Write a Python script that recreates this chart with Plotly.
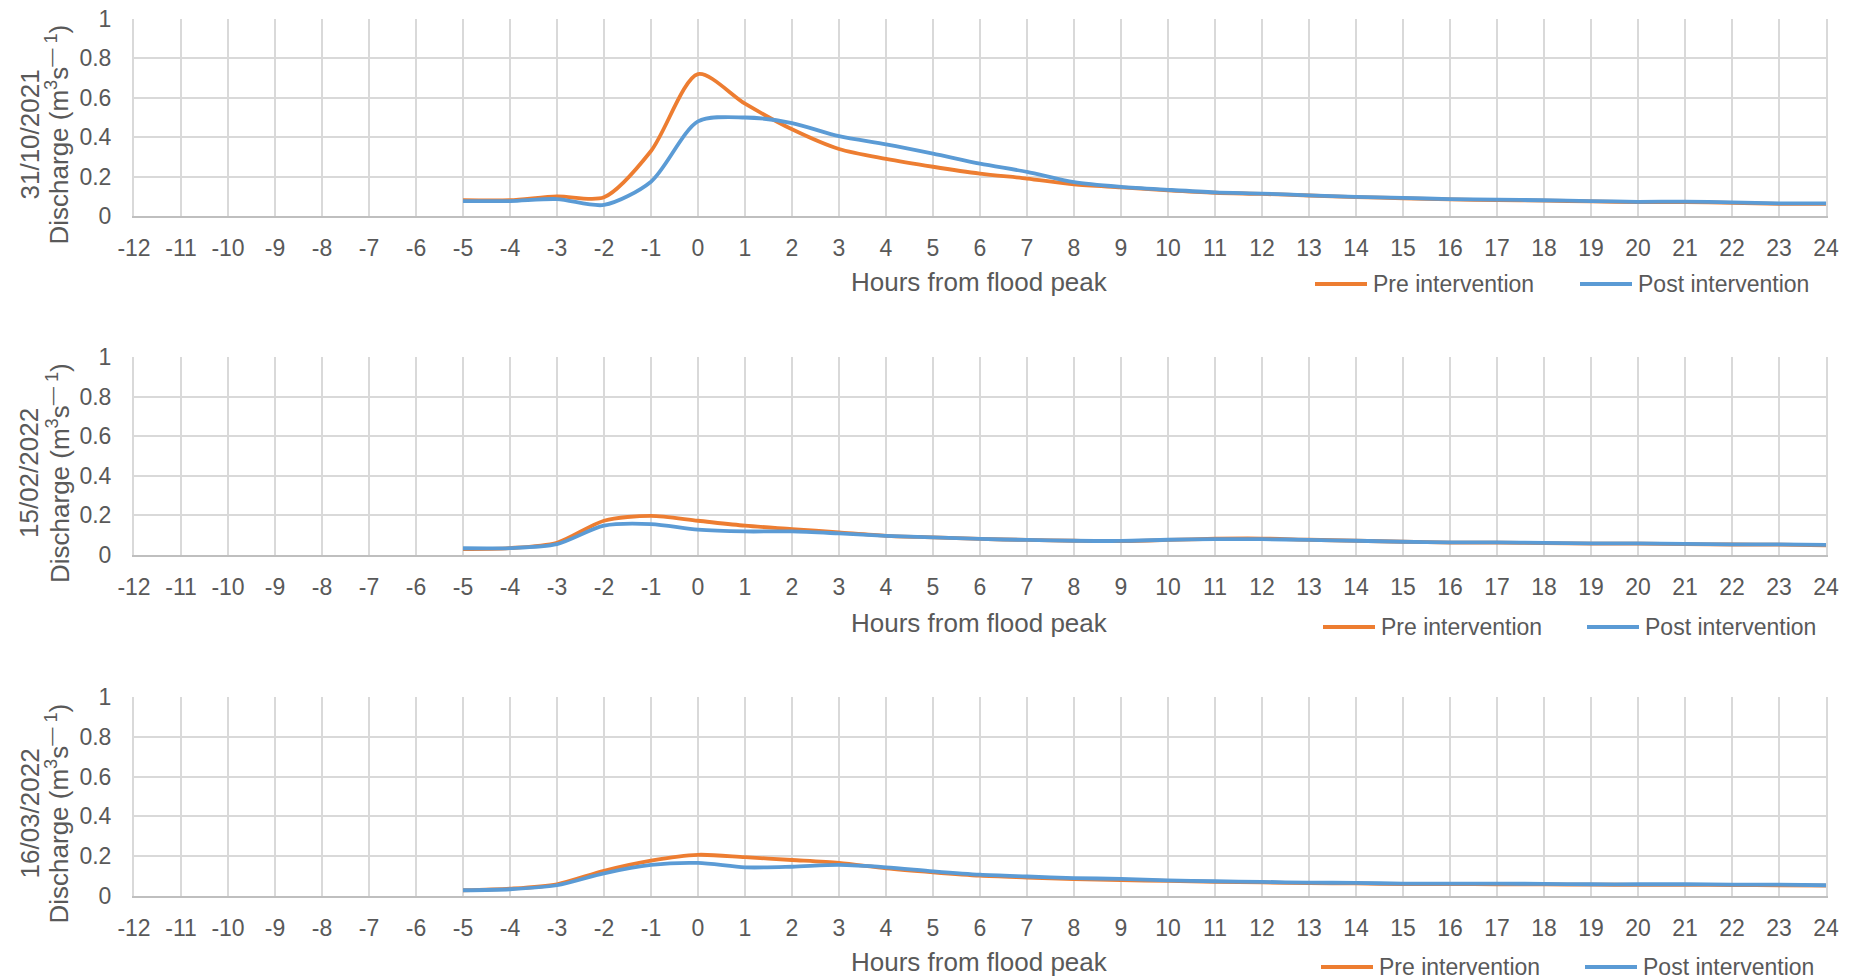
import plotly.graph_objects as go

hours = list(range(-5, 25))
x_ticks = list(range(-12, 25))

pre_2021 = [0.08, 0.08, 0.10, 0.095, 0.33, 0.72, 0.57, 0.44, 0.34, 0.29, 0.25, 0.215, 0.19, 0.16,
            0.145, 0.13, 0.118, 0.112, 0.104, 0.096, 0.09, 0.084, 0.081, 0.078, 0.074, 0.07,
            0.071, 0.067, 0.062, 0.062]
post_2021 = [0.076, 0.076, 0.086, 0.056, 0.174, 0.48, 0.50, 0.472, 0.405, 0.364, 0.317, 0.266,
             0.224, 0.172, 0.148, 0.133, 0.12, 0.114, 0.105, 0.097, 0.092, 0.086, 0.083, 0.08,
             0.076, 0.072, 0.073, 0.069, 0.064, 0.064]

pre_feb22 = [0.03, 0.035, 0.062, 0.173, 0.198, 0.173, 0.148, 0.131, 0.114, 0.097, 0.089, 0.081,
             0.076, 0.072, 0.07, 0.076, 0.082, 0.083, 0.077, 0.072, 0.067, 0.063, 0.062, 0.06,
             0.057, 0.057, 0.055, 0.053, 0.052, 0.049]
post_feb22 = [0.034, 0.035, 0.055, 0.148, 0.156, 0.128, 0.119, 0.119, 0.109, 0.097, 0.089, 0.081,
              0.076, 0.072, 0.071, 0.077, 0.08, 0.08, 0.076, 0.072, 0.067, 0.064, 0.064, 0.061,
              0.059, 0.059, 0.056, 0.054, 0.054, 0.051]

pre_mar22 = [0.029, 0.037, 0.059, 0.127, 0.178, 0.207, 0.195, 0.181, 0.166, 0.139, 0.119, 0.102,
             0.093, 0.085, 0.08, 0.076, 0.071, 0.068, 0.065, 0.063, 0.06, 0.06, 0.059, 0.058,
             0.057, 0.056, 0.056, 0.055, 0.054, 0.052]
post_mar22 = [0.029, 0.034, 0.054, 0.114, 0.156, 0.166, 0.144, 0.147, 0.156, 0.144, 0.124, 0.107,
              0.098, 0.09, 0.086, 0.079, 0.074, 0.071, 0.067, 0.066, 0.062, 0.062, 0.062, 0.061,
              0.059, 0.059, 0.059, 0.057, 0.057, 0.054]

dates = ["31/10/2021", "15/02/2022", "16/03/2022"]
series_names = ["Pre intervention", "Post intervention"]
series = [(pre_2021, post_2021), (pre_feb22, post_feb22), (pre_mar22, post_mar22)]

W, H = 1853, 980
FONT = "Liberation Sans, Arial, sans-serif"
TXT = "#595959"
GRID = "#D9D9D9"
ORANGE = "#ED7D31"
BLUE = "#5B9BD5"
COLORS = [ORANGE, BLUE]

panels = [(19, 216), (357, 555), (697, 896)]
x_left, x_right = 134, 1826
legend_y = [284, 627, 967]
legend_x = [(1315, 1580), (1323, 1587), (1321, 1585)]
title_y = [282, 623, 962]

fig = go.Figure()
layout = dict(
    width=W, height=H, margin=dict(l=0, r=0, t=0, b=0, autoexpand=False),
    paper_bgcolor="white", plot_bgcolor="white",
    font=dict(family=FONT, color=TXT, size=23),
    showlegend=False,
    annotations=[], shapes=[],
)

for i, ((pre, post), date) in enumerate(zip(series, dates)):
    n = "" if i == 0 else str(i + 1)
    top, bot = panels[i]
    for vals, name, col in zip((pre, post), series_names, COLORS):
        fig.add_trace(go.Scatter(x=hours, y=vals, mode="lines", name=name,
                                 line=dict(color=col, width=3.8, shape="spline", smoothing=0.8),
                                 xaxis="x" + n, yaxis="y" + n))
    layout["xaxis" + n] = dict(
        domain=[x_left / W, x_right / W], anchor="y" + n, range=[-12, 24],
        tickmode="array", tickvals=x_ticks, ticktext=[str(t) for t in x_ticks],
        showgrid=True, gridcolor=GRID, gridwidth=2,
        showline=True, linecolor="#BFBFBF", linewidth=2,
        ticks="outside", ticklen=10, tickcolor="rgba(0,0,0,0)",
        tickfont=dict(size=23, color=TXT), zeroline=False, fixedrange=True,
    )
    layout["yaxis" + n] = dict(
        domain=[1 - bot / H, 1 - top / H], anchor="x" + n, range=[0, 1],
        tickmode="array", tickvals=[0, 0.2, 0.4, 0.6, 0.8, 1],
        ticktext=["0", "0.2", "0.4", "0.6", "0.8", "1"],
        showgrid=True, gridcolor=GRID, gridwidth=2,
        showline=True, linecolor=GRID, linewidth=2, mirror=True,
        ticks="outside", ticklen=16, tickcolor="rgba(0,0,0,0)",
        tickfont=dict(size=23, color=TXT), zeroline=False, fixedrange=True,
    )
    # legend: line sample + label, one pair per series
    for (lx, name, col) in zip(legend_x[i], series_names, COLORS):
        ly = 1 - legend_y[i] / H
        layout["shapes"].append(dict(type="line", xref="paper", yref="paper",
                                     x0=lx / W, x1=(lx + 52) / W, y0=ly, y1=ly,
                                     line=dict(color=col, width=3.8)))
        layout["annotations"].append(dict(text=name, x=(lx + 56) / W, y=ly, xref="paper",
                                          yref="paper", showarrow=False, xanchor="left",
                                          yanchor="middle", font=dict(size=23, color=TXT)))
    mid = (top + bot) / 2 + 17
    layout["annotations"] += [
        dict(text=date, x=29 / W, y=1 - mid / H, xref="paper", yref="paper",
             textangle=-90, showarrow=False, font=dict(size=26, color=TXT),
             xanchor="center", yanchor="middle"),
        dict(text="Discharge (m<sup>3</sup>s<sup>\u2014 1</sup>)", x=58 / W, y=1 - mid / H,
             xref="paper", yref="paper", textangle=-90, showarrow=False,
             font=dict(size=26, color=TXT), xanchor="center", yanchor="middle"),
        dict(text="Hours from flood peak", x=(x_left + x_right) / 2 / W, y=1 - title_y[i] / H,
             xref="paper", yref="paper", showarrow=False, font=dict(size=26, color=TXT),
             xanchor="center", yanchor="middle"),
    ]

fig.update_layout(**layout)
fig.write_html("out.html",
               post_script="document.body.style.margin='0';document.body.style.overflow='hidden';")
